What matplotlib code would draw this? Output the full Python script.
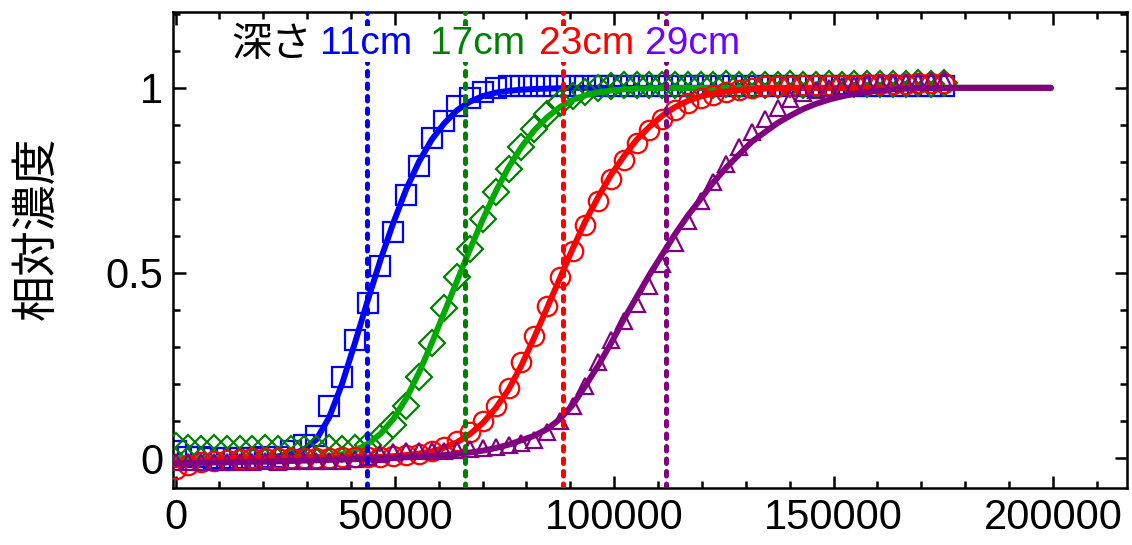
import numpy as np
import matplotlib
matplotlib.use("Agg")
import matplotlib.pyplot as plt
from matplotlib.ticker import MultipleLocator, FixedLocator, FuncFormatter

plt.rcParams['font.family'] = ['Liberation Sans', 'Noto Sans CJK JP']

# sampling times (61 samples), fit curves run a bit further
time = np.arange(0, 175201, 2920)
time_fit = np.append(time, 199500)

blue_data = [0.02, 0.004, 0.002, 0.0, 0.001, 0.0, 0.001, 0.002, 0.004, 0.018,
             0.035, 0.06, 0.14, 0.22, 0.32, 0.42, 0.52, 0.61, 0.71, 0.79,
             0.865, 0.91, 0.95, 0.972, 0.99, 1.0, 1.004, 1.005, 1.006, 1.005,
             1.004, 1.005, 1.006, 1.005, 1.005, 1.004, 1.005, 1.006, 1.005, 1.005,
             1.004, 1.005, 1.005, 1.006, 1.005, 1.004, 1.005, 1.005, 1.006, 1.005,
             1.005, 1.004, 1.005, 1.006, 1.005, 1.005, 1.004, 1.005, 1.005, 1.006,
             1.005]
blue_fit = [0.0, 0.0, 0.0, 0.0, 0.0, 0.0, 0.0, 0.0, 0.004, 0.01,
            0.022, 0.05, 0.11, 0.2, 0.31, 0.425, 0.535, 0.635, 0.725, 0.8,
            0.86, 0.905, 0.94, 0.963, 0.978, 0.987, 0.992, 0.995, 0.997, 0.998,
            0.999, 1.0, 1.0, 1.0, 1.0, 1.0, 1.0, 1.0, 1.0, 1.0,
            1.0, 1.0, 1.0, 1.0, 1.0, 1.0, 1.0, 1.0, 1.0, 1.0,
            1.0, 1.0, 1.0, 1.0, 1.0, 1.0, 1.0, 1.0, 1.0, 1.0,
            1.0, 1.0]

green_data = [0.032, 0.026, 0.025, 0.026, 0.025, 0.024, 0.025, 0.026, 0.025, 0.025,
              0.024, 0.025, 0.026, 0.025, 0.026, 0.035, 0.055, 0.09, 0.14, 0.22,
              0.31, 0.405, 0.49, 0.565, 0.645, 0.72, 0.78, 0.84, 0.89, 0.93,
              0.96, 0.978, 0.99, 1.0, 1.006, 1.008, 1.008, 1.009, 1.008, 1.008,
              1.009, 1.008, 1.008, 1.01, 1.008, 1.009, 1.008, 1.008, 1.01, 1.009,
              1.008, 1.01, 1.009, 1.01, 1.01, 1.011, 1.01, 1.011, 1.012, 1.011,
              1.012]
green_fit = [0.0, 0.0, 0.0, 0.0, 0.0, 0.0, 0.0, 0.0, 0.0, 0.0,
             0.0, 0.002, 0.005, 0.01, 0.02, 0.038, 0.065, 0.105, 0.16, 0.23,
             0.31, 0.395, 0.48, 0.565, 0.645, 0.72, 0.785, 0.84, 0.885, 0.92,
             0.948, 0.967, 0.98, 0.988, 0.993, 0.996, 0.998, 0.999, 1.0, 1.0,
             1.0, 1.0, 1.0, 1.0, 1.0, 1.0, 1.0, 1.0, 1.0, 1.0,
             1.0, 1.0, 1.0, 1.0, 1.0, 1.0, 1.0, 1.0, 1.0, 1.0,
             1.0, 1.0]

red_data = [-0.03, -0.02, -0.012, -0.008, -0.005, -0.003, 0.0, 0.0, 0.001, 0.0,
            0.001, 0.0, 0.001, 0.002, 0.002, 0.002, 0.003, 0.005, 0.008, 0.012,
            0.02, 0.03, 0.045, 0.07, 0.1, 0.14, 0.19, 0.26, 0.33, 0.41,
            0.49, 0.56, 0.63, 0.695, 0.755, 0.805, 0.85, 0.885, 0.915, 0.94,
            0.96, 0.972, 0.982, 0.99, 0.995, 1.0, 1.004, 1.005, 1.006, 1.007,
            1.007, 1.008, 1.008, 1.009, 1.01, 1.01, 1.01, 1.011, 1.012, 1.012,
            1.012]
red_fit = [-0.02, -0.012, -0.008, -0.005, -0.003, -0.002, -0.001, 0.0, 0.0, 0.0,
           0.001, 0.001, 0.001, 0.002, 0.002, 0.002, 0.003, 0.005, 0.008, 0.012,
           0.018, 0.028, 0.043, 0.065, 0.095, 0.135, 0.185, 0.25, 0.325, 0.405,
           0.485, 0.565, 0.64, 0.705, 0.765, 0.815, 0.86, 0.895, 0.925, 0.948,
           0.965, 0.977, 0.985, 0.99, 0.994, 0.996, 0.998, 0.999, 1.0, 1.0,
           1.0, 1.0, 1.0, 1.0, 1.0, 1.0, 1.0, 1.0, 1.0, 1.0,
           1.0, 1.0]

purple_data = [-0.01, -0.012, -0.011, -0.01, -0.011, -0.01, -0.01, -0.009, -0.01, -0.009,
               -0.008, -0.009, -0.008, -0.007, -0.004, 0.004, 0.012, 0.016, 0.018, 0.018,
               0.02, 0.02, 0.022, 0.025, 0.027, 0.03, 0.035, 0.04, 0.05, 0.07,
               0.1, 0.14, 0.195, 0.26, 0.32, 0.37, 0.415, 0.465, 0.525, 0.58,
               0.64, 0.695, 0.745, 0.795, 0.84, 0.88, 0.915, 0.945, 0.97, 0.985,
               0.995, 1.0, 1.004, 1.007, 1.01, 1.012, 1.014, 1.015, 1.017, 1.018,
               1.02]
purple_fit = [-0.015, -0.014, -0.013, -0.012, -0.012, -0.011, -0.01, -0.01, -0.009, -0.008,
              -0.007, -0.006, -0.005, -0.004, -0.003, -0.002, 0.0, 0.001, 0.002, 0.004,
              0.006, 0.008, 0.011, 0.015, 0.02, 0.027, 0.036, 0.048, 0.06, 0.078,
              0.105, 0.143, 0.195, 0.25, 0.31, 0.375, 0.435, 0.495, 0.55, 0.605,
              0.655, 0.7, 0.745, 0.785, 0.82, 0.855, 0.88, 0.905, 0.925, 0.943,
              0.957, 0.968, 0.977, 0.984, 0.989, 0.993, 0.996, 0.998, 0.999, 0.999,
              1.0, 1.0]

depth_labels = ['11cm', '17cm', '23cm', '29cm']
depth_lines = [43650, 66000, 88300, 111700]
label_x = [32950, 58030, 82880, 107040]

series = [
    (blue_data, blue_fit, 's', 14, '#0000ff', '#0000ff', '#0000ff', '#0000ff'),
    (green_data, green_fit, 'D', 13.5, '#008000', '#00aa00', '#008000', '#008000'),
    (red_data, red_fit, 'o', 14, '#ff0000', '#ff0000', '#ff0000', '#ff0000'),
    (purple_data, purple_fit, '^', 12, '#800080', '#800080', '#800080', '#7000ff'),
]

fig = plt.figure(figsize=(11.32, 5.45), dpi=100)
ax = fig.add_axes([173 / 1132, 57 / 545, 954 / 1132, 476 / 545])

for i, (d, f, mk, ms, mc, lc, dc, tc) in enumerate(series):
    ax.plot(time, d, linestyle='none', marker=mk, ms=ms, mfc='none', mec=mc,
            mew=1.6, zorder=2 + 2 * i)
    ax.plot(time_fit, f, color=lc, lw=4.3, solid_capstyle='round', zorder=3 + 2 * i)
    ax.axvline(depth_lines[i], color=dc, lw=3.6, linestyle=(0, (0.9, 1.6)),
               dash_capstyle='round', zorder=12)
    ax.text(label_x[i], 1.118, depth_labels[i], color=tc, fontsize=28,
            ha='left', va='center', zorder=20,
            bbox=dict(facecolor='white', edgecolor='none', pad=0))

ax.text(12650, 1.118, '深さ', color='black', fontsize=29, ha='left', va='center',
        zorder=20, family=['Noto Sans CJK JP'])

ax.set_xlim(-570, 216900)
ax.set_ylim(-0.081, 1.205)

ax.xaxis.set_major_locator(MultipleLocator(50000))
ax.xaxis.set_minor_locator(MultipleLocator(10000))
ax.yaxis.set_major_locator(FixedLocator([0, 0.5, 1]))
ax.yaxis.set_minor_locator(MultipleLocator(0.1))
ax.yaxis.set_major_formatter(FuncFormatter(lambda v, p: '%g' % v))

ax.tick_params(which='both', direction='in', top=True, right=True, width=1.8,
               labelsize=30, pad=7)
ax.tick_params(which='major', length=9)
ax.tick_params(which='minor', length=5)
for s in ax.spines.values():
    s.set_linewidth(1.8)

ax.set_ylabel('相対濃度', fontsize=33, family=['Noto Sans CJK JP'])
ax.yaxis.set_label_coords(-0.118, 0.546)

fig.savefig('out.png', dpi=100)
